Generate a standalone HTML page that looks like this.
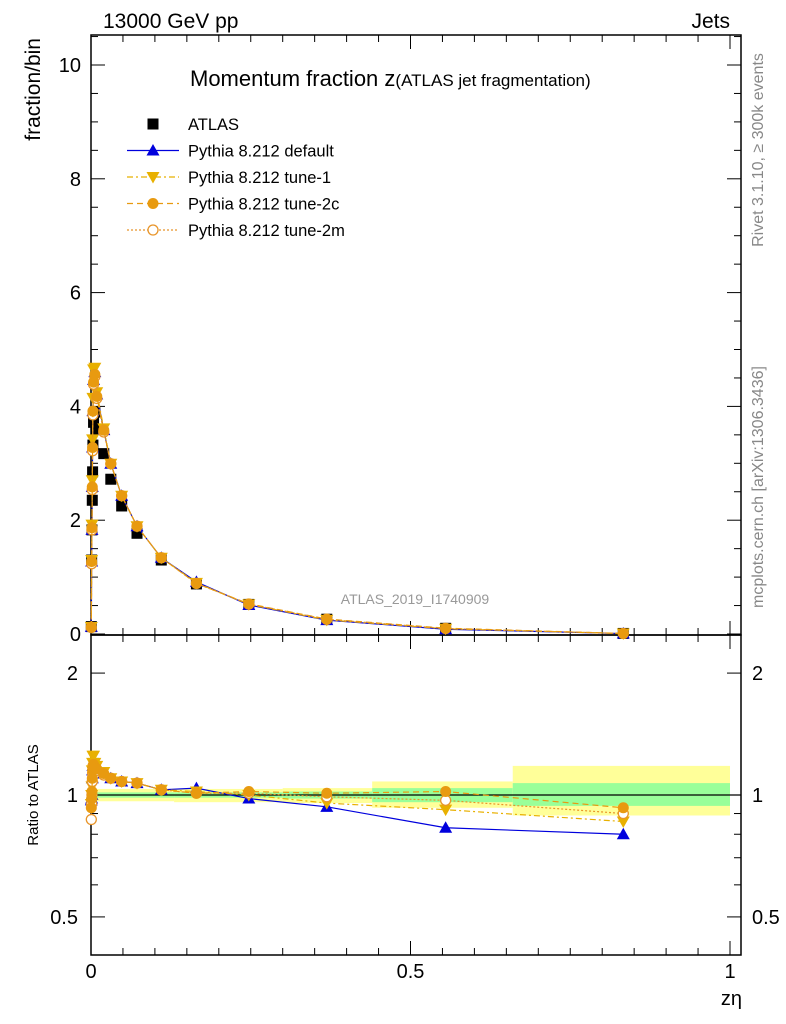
<!DOCTYPE html>
<html><head><meta charset="utf-8"><style>
body{margin:0;background:#fff;}
svg{display:block;font-family:"Liberation Sans",sans-serif;}
</style></head><body>
<svg id="c" width="786" height="1024"></svg>
<script>
const zVals=[0.0005,0.001,0.0015,0.002,0.0025,0.003,0.004,0.006,0.009,0.02,0.031,0.048,0.072,0.11,0.165,0.247,0.369,0.555,0.833];
const atlasVals=[0.13,1.3,1.83,2.35,2.85,3.32,3.72,3.9,3.6,3.17,2.72,2.25,1.77,1.3,0.88,0.52,0.26,0.1,0.01];
const ratioDefault=[0.97,0.98,1.0,1.1,1.15,1.18,1.2,1.18,1.17,1.13,1.1,1.08,1.07,1.03,1.04,0.98,0.935,0.83,0.80];
const ratioTune1=[0.95,1.0,1.05,1.15,1.2,1.25,1.25,1.2,1.18,1.14,1.1,1.08,1.07,1.03,1.02,1.0,0.955,0.92,0.86];
const ratioTune2c=[0.93,0.98,1.02,1.1,1.15,1.18,1.19,1.17,1.16,1.13,1.1,1.08,1.07,1.03,1.01,1.02,1.01,1.02,0.93];
const ratioTune2m=[0.87,0.95,1.0,1.08,1.13,1.16,1.18,1.16,1.15,1.12,1.1,1.08,1.07,1.03,1.01,1.01,0.99,0.97,0.90];
const bandEdges=[0,0.13,0.3,0.44,0.66,1.0];
const bandYellowLo=[0.965,0.96,0.955,0.93,0.89];
const bandYellowHi=[1.035,1.035,1.04,1.08,1.18];
const bandGreenLo=[0.985,0.985,0.98,0.96,0.94];
const bandGreenHi=[1.015,1.015,1.02,1.04,1.07];
const mainTicks=[0,2,4,6,8,10];
const ratioTicks=[0.5,1,2];

const NS="http://www.w3.org/2000/svg";
const svg=document.getElementById('c');
const L=91,R=741,MT=35,MB=635,RB=955;
const X0=91,X1=730;
const sx=z=>X0+z*(X1-X0);
const sy=v=>634-v*56.9;
const sr=r=>795-Math.log10(r)*405;
function el(t,a,txt,p){const e=document.createElementNS(NS,t);for(const k in a)e.setAttribute(k,a[k]);if(txt!==undefined)e.textContent=txt;(p||svg).appendChild(e);return e;}

for(let i=0;i<bandYellowLo.length;i++){
 const b=el('rect',{x:sx(bandEdges[i]),y:sr(bandYellowHi[i]),width:sx(bandEdges[i+1])-sx(bandEdges[i]),height:sr(bandYellowLo[i])-sr(bandYellowHi[i]),fill:'#ffff99'});
 
 
 const g=el('rect',{x:sx(bandEdges[i]),y:sr(bandGreenHi[i]),width:sx(bandEdges[i+1])-sx(bandEdges[i]),height:sr(bandGreenLo[i])-sr(bandGreenHi[i]),fill:'#99ff99'});
 
 
}
el('line',{x1:L,x2:R,y1:sr(1),y2:sr(1),stroke:'#000','stroke-width':1.2});

el('rect',{x:L,y:MT,width:R-L,height:MB-MT,fill:'none',stroke:'#000','stroke-width':1.5});
el('rect',{x:L,y:MB,width:R-L,height:RB-MB,fill:'none',stroke:'#000','stroke-width':1.5});

for(let k=0;k<=20;k++){const z=k*0.05,x=sx(z),len=(k%10==0)?14:7;
 for(const [top,bot] of [[MT,MB],[MB,RB]]){el('line',{x1:x,x2:x,y1:bot,y2:bot-len,stroke:'#000'});el('line',{x1:x,x2:x,y1:top,y2:top+len,stroke:'#000'});}}
[[0,'0'],[0.5,'0.5'],[1,'1']].forEach(([z,t])=>{const e=el('text',{x:sx(z),y:978,'font-size':20,'text-anchor':'middle'},t);});
el('text',{x:742,y:1005,'font-size':20,'text-anchor':'end',},'zη');

for(let v=0;v<=10.5;v+=0.5){const y=sy(v);if(y<MT)break;const len=(Math.abs(v%2)<1e-6)?14:7;
 el('line',{x1:L,x2:L+len,y1:y,y2:y,stroke:'#000'});el('line',{x1:R,x2:R-len,y1:y,y2:y,stroke:'#000'});}
mainTicks.forEach(v=>{const e=el('text',{x:81,y:sy(v)+7,'font-size':20,'text-anchor':'end'},String(v));});
el('text',{x:0,y:0,'font-size':21,'text-anchor':'end',transform:'translate(40,38) rotate(-90)',},'fraction/bin');

[0.5,0.6,0.7,0.8,0.9,1,2].forEach(r=>{const y=sr(r);const len=ratioTicks.includes(r)?14:7;
 el('line',{x1:L,x2:L+len,y1:y,y2:y,stroke:'#000'});el('line',{x1:R,x2:R-len,y1:y,y2:y,stroke:'#000'});});
ratioTicks.forEach(r=>{const y=sr(r)+7;
 const a=el('text',{x:78,y:y,'font-size':20,'text-anchor':'end'},String(r));
 const b=el('text',{x:752,y:y,'font-size':20},String(r));});
el('text',{x:0,y:0,'font-size':15,'text-anchor':'middle',transform:'translate(38,795) rotate(-90)',},'Ratio to ATLAS');

el('text',{x:103,y:28,'font-size':21,},'13000 GeV pp');
el('text',{x:730,y:28,'font-size':21,'text-anchor':'end',},'Jets');
const tt=el('text',{x:190,y:86,'font-size':22,},'Momentum fraction z');
el('tspan',{'font-size':17},'(ATLAS jet fragmentation)',tt);
el('text',{x:415,y:604,'font-size':14,fill:'#999','text-anchor':'middle',},'ATLAS_2019_I1740909');
el('text',{x:0,y:0,'font-size':16,fill:'#888','text-anchor':'middle',transform:'translate(763,150) rotate(-90)',},'Rivet 3.1.10, ≥ 300k events');
el('text',{x:0,y:0,'font-size':16,fill:'#888','text-anchor':'middle',transform:'translate(763,487) rotate(-90)',},'mcplots.cern.ch [arXiv:1306.3436]');

function marker(kind,x,y,col,g){
 if(kind==='sq')return el('rect',{x:x-5.5,y:y-5.5,width:11,height:11,fill:'#000'},undefined,g);
 if(kind==='up')return el('polygon',{points:`${x},${y-6.5} ${x-6.5},${y+5} ${x+6.5},${y+5}`,fill:col},undefined,g);
 if(kind==='dn')return el('polygon',{points:`${x},${y+6.5} ${x-6.5},${y-5} ${x+6.5},${y-5}`,fill:col},undefined,g);
 if(kind==='fc')return el('circle',{cx:x,cy:y,r:5.5,fill:col},undefined,g);
 return el('circle',{cx:x,cy:y,r:5,fill:'#fff',stroke:col,'stroke-width':1.3},undefined,g);
}
zVals.forEach((z,i)=>{const a=marker('sq',sx(z),sy(atlasVals[i]));});
const series=[
 {name:'pythia-default',r:ratioDefault,col:'#0000dd',m:'up',dash:''},
 {name:'pythia-tune-1',r:ratioTune1,col:'#e8b000',m:'dn',dash:'6,3,2,3'},
 {name:'pythia-tune-2m',r:ratioTune2m,col:'#e8952a',m:'oc',dash:'2,2'},
 {name:'pythia-tune-2c',r:ratioTune2c,col:'#e89a10',m:'fc',dash:'6,4'}];
series.forEach(s=>{
 const g=el('g',{});
 const pm=zVals.map((z,i)=>sx(z)+','+sy(atlasVals[i]*s.r[i])).join(' ');
 el('polyline',{points:pm,fill:'none',stroke:s.col,'stroke-width':1.2,'stroke-dasharray':s.dash},undefined,g);
 const pr=zVals.map((z,i)=>sx(z)+','+sr(s.r[i])).join(' ');
 el('polyline',{points:pr,fill:'none',stroke:s.col,'stroke-width':1.2,'stroke-dasharray':s.dash},undefined,g);
 zVals.forEach((z,i)=>{
  const a=marker(s.m,sx(z),sy(atlasVals[i]*s.r[i]),s.col,g);
  const b=marker(s.m,sx(z),sr(s.r[i]),s.col,g);});
});
const leg=[['ATLAS','sq','#000',null,''],['Pythia 8.212 default','up','#0000dd','#0000dd',''],['Pythia 8.212 tune-1','dn','#e8b000','#e8b000','6,3,2,3'],['Pythia 8.212 tune-2c','fc','#e89a10','#e89a10','6,4'],['Pythia 8.212 tune-2m','oc','#e8952a','#e8952a','2,2']];
leg.forEach((l,i)=>{const y=124+i*26.5;const g=el('g',{});
 if(l[3])el('line',{x1:127,x2:179,y1:y,y2:y,stroke:l[3],'stroke-width':1.2,'stroke-dasharray':l[4]},undefined,g);
 marker(l[1],153,y,l[2],g);
 el('text',{x:188,y:y+6,'font-size':16.5},l[0],g);});
</script>
</body></html>
